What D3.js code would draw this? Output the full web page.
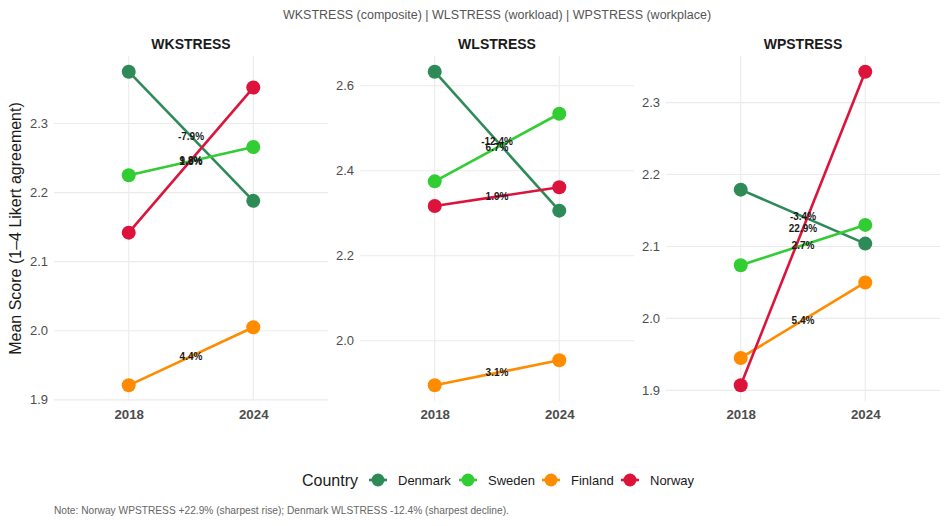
<!DOCTYPE html>
<html>
<head>
<meta charset="utf-8">
<script src="https://cdn.jsdelivr.net/npm/d3@7"></script>
<style>
  html, body { margin: 0; padding: 0; background: #fff; }
  svg { display: block; font-family: "Liberation Sans", Arial, Helvetica, sans-serif; }
</style>
</head>
<body>
<svg id="chart" width="948" height="526"></svg>
<script>
// ---------- data ----------
const years = ["2018", "2024"];
const countries = ["Denmark", "Sweden", "Finland", "Norway"];
const colors = ["#2E8B57", "#32CD32", "#FF8C00", "#DC143C"];
const measures = ["WKSTRESS", "WLSTRESS", "WPSTRESS"];

// values per measure: [2018, 2024] for each country (Denmark, Sweden, Finland, Norway)
const wkstress = [[2.375, 2.188], [2.225, 2.266], [1.921, 2.005], [2.142, 2.352]];
const wlstress = [[2.633, 2.306], [2.375, 2.534], [1.895, 1.954], [2.317, 2.361]];
const wpstress = [[2.179, 2.104], [2.074, 2.130], [1.945, 2.050], [1.907, 2.343]];
const seriesByMeasure = [wkstress, wlstress, wpstress];

const yTicksWK = [1.9, 2.0, 2.1, 2.2, 2.3];
const yTicksWL = [2.0, 2.2, 2.4, 2.6];
const yTicksWP = [1.9, 2.0, 2.1, 2.2, 2.3];
const yTicksByMeasure = [yTicksWK, yTicksWL, yTicksWP];

const titleText = "WKSTRESS (composite) | WLSTRESS (workload) | WPSTRESS (workplace)";
const yLabel = "Mean Score (1\u20134 Likert agreement)";
const legendTitle = "Country";
const noteText = "Note: Norway WPSTRESS +22.9% (sharpest rise); Denmark WLSTRESS -12.4% (sharpest decline).";

// ---------- layout ----------
const svg = d3.select("#chart");
const panelLefts = [54, 360, 666];
const panelW = 274;
const plotTop = 56, plotBottom = 401;

svg.append("text")
  .attr("x", (panelLefts[0] + panelLefts[2] + panelW) / 2)
  .attr("y", 19)
  .attr("text-anchor", "middle")
  .attr("font-size", 12.5)
  .attr("fill", "#555555")
  .text(titleText);

svg.append("text")
  .attr("transform", `translate(21,${(plotTop + plotBottom) / 2}) rotate(-90)`)
  .attr("text-anchor", "middle")
  .attr("font-size", 16)
  .attr("fill", "#1a1a1a")
  .text(yLabel);

const fmtNum = d3.formatLocale({decimal: ".", thousands: ",", grouping: [3], currency: ["", ""], minus: "-"}).format(".1f");
const fmtPct = v => fmtNum(v) + "%";

measures.forEach((m, mi) => {
  const left = panelLefts[mi];
  const data = seriesByMeasure[mi];
  const g = svg.append("g");

  const x = d3.scalePoint().domain(years).range([left + panelW * 0.6 / 2.2, left + panelW * 1.6 / 2.2]);
  const all = data.flat();
  const [lo, hi] = d3.extent(all);
  const pad = (hi - lo) * 0.05;
  const y = d3.scaleLinear().domain([lo - pad, hi + pad]).range([plotBottom, plotTop]);

  // gridlines
  const yTicks = yTicksByMeasure[mi];
  g.selectAll(".hg").data(yTicks).join("line")
    .attr("x1", left).attr("x2", left + panelW)
    .attr("y1", d => y(d)).attr("y2", d => y(d))
    .attr("stroke", "#ebebeb").attr("stroke-width", 1.1);
  g.selectAll(".vg").data(years).join("line")
    .attr("x1", d => x(d)).attr("x2", d => x(d))
    .attr("y1", plotTop).attr("y2", plotBottom)
    .attr("stroke", "#ebebeb").attr("stroke-width", 1.1);

  // y axis
  const yAxis = d3.axisLeft(y).tickValues(yTicks).tickSize(0).tickPadding(6).tickFormat(d3.format(".1f"));
  const ya = g.append("g").attr("transform", `translate(${left},0)`).call(yAxis);
  ya.select(".domain").remove();
  ya.attr("font-family", null);
  ya.selectAll("text").attr("font-size", 13).attr("fill", "#4d4d4d");

  // x axis
  const xAxis = d3.axisBottom(x).tickSize(0).tickPadding(9);
  const xa = g.append("g").attr("transform", `translate(0,${plotBottom})`).call(xAxis);
  xa.select(".domain").remove();
  xa.attr("font-family", null);
  xa.selectAll("text").attr("font-size", 13.3).attr("font-weight", "bold").attr("fill", "#4d4d4d");

  // strip title
  g.append("text")
    .attr("x", left + panelW / 2).attr("y", 49)
    .attr("text-anchor", "middle")
    .attr("font-size", 14).attr("font-weight", "bold").attr("fill", "#1a1a1a")
    .text(m);

  // lines
  data.forEach((vals, ci) => {
    g.append("path")
      .datum(vals)
      .attr("d", d3.line().x((d, i) => x(years[i])).y(d => y(d)))
      .attr("fill", "none").attr("stroke", colors[ci]).attr("stroke-width", 2.6);
  });
  // points
  data.forEach((vals, ci) => {
    g.selectAll(null).data(vals).join("circle")
      .attr("cx", (d, i) => x(years[i])).attr("cy", d => y(d))
      .attr("r", 7).attr("fill", colors[ci]);
  });
  // labels
  data.forEach((vals, ci) => {
    const pct = (vals[1] / vals[0] - 1) * 100;
    g.append("text")
      .attr("x", (x(years[0]) + x(years[1])) / 2)
      .attr("y", y((vals[0] + vals[1]) / 2))
      .attr("dy", "0.35em")
      .attr("text-anchor", "middle")
      .attr("font-size", 10).attr("font-weight", "bold").attr("fill", "#1a1a1a")
      .text(fmtPct(pct));
  });
});

// ---------- legend ----------
const lg = svg.append("g");
const legendY = 480;
lg.append("text").attr("x", 302).attr("y", legendY).attr("dy", "0.35em")
  .attr("font-size", 16).attr("fill", "#1a1a1a").text(legendTitle);
const keyX = [378, 468, 551, 630];
countries.forEach((c, i) => {
  lg.append("line").attr("x1", keyX[i] - 9).attr("x2", keyX[i] + 9)
    .attr("y1", legendY).attr("y2", legendY)
    .attr("stroke", colors[i]).attr("stroke-width", 2.6);
  lg.append("circle").attr("cx", keyX[i]).attr("cy", legendY).attr("r", 6.5).attr("fill", colors[i]);
  lg.append("text").attr("x", keyX[i] + 20).attr("y", legendY).attr("dy", "0.35em")
    .attr("font-size", 13).attr("fill", "#1a1a1a").text(c);
});

// ---------- note ----------
svg.append("text").attr("x", 54).attr("y", 514)
  .attr("font-size", 10.2).attr("fill", "#666666").text(noteText);
</script>
</body>
</html>
